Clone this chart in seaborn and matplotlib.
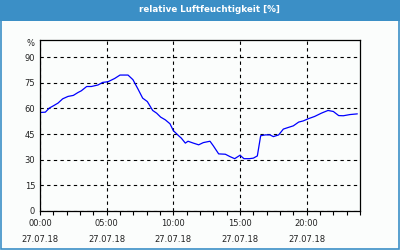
import matplotlib
matplotlib.use("Agg")
import matplotlib.pyplot as plt
import seaborn as sns
import pandas as pd
from matplotlib.patches import Rectangle
from matplotlib.ticker import MultipleLocator

sns.set_style("white")
plt.rcParams['font.family'] = ['DejaVu Sans']

hours = [0.0, 0.4, 0.7, 1.0, 1.35, 1.7, 2.1, 2.5, 2.85, 3.1, 3.5, 3.85, 4.35, 4.7,
         5.1, 5.6, 6.0, 6.6, 6.97, 7.35, 7.7, 8.05, 8.45, 8.75, 9.05, 9.4, 9.75,
         10.0, 10.4, 10.6, 10.9, 11.1, 11.5, 11.9, 12.25, 12.75, 13.0, 13.4, 13.9,
         14.25, 14.6, 15.0, 15.3, 15.7, 16.0, 16.3, 16.55, 16.9, 17.25, 17.5, 17.9,
         18.25, 18.6, 19.0, 19.4, 19.75, 20.1, 20.6, 21.1, 21.6, 22.0, 22.4, 22.75,
         23.25, 23.8]
humidity = [57.6, 57.8, 60.2, 61.5, 63.1, 65.6, 67.0, 67.6, 69.3, 70.3, 72.8, 72.8,
            73.7, 75.2, 75.6, 77.5, 79.5, 79.5, 76.8, 71.3, 66.0, 64.0, 58.8, 57.2,
            54.9, 53.3, 51.0, 47.0, 44.0, 42.6, 39.7, 40.8, 39.7, 38.7, 40.0, 40.8,
            38.1, 33.4, 33.2, 31.8, 30.6, 32.6, 30.6, 30.6, 30.9, 32.2, 44.0, 44.5,
            44.5, 43.5, 44.5, 47.9, 48.8, 49.8, 52.0, 52.7, 53.9, 55.3, 57.2, 58.8,
            58.2, 55.8, 55.7, 56.4, 56.8]
x_ticks = [0, 5, 10, 15, 20]
x_labels = ["00:00\n27.07.18", "05:00\n27.07.18", "10:00\n27.07.18",
            "15:00\n27.07.18", "20:00\n27.07.18"]
y_ticks = [0, 15, 30, 45, 60, 75, 90]
title = "relative Luftfeuchtigkeit [%]"
unit = "%"

bg = '#fbfdfc'
blue = '#3b8fc6'
txt = '#222222'

fig = plt.figure(figsize=(4, 2.5), dpi=100, facecolor=bg)
ax = fig.add_axes([0.1, 0.156, 0.8, 0.684])
ax.set_facecolor(bg)

df = pd.DataFrame({"h": hours, "v": humidity})
sns.lineplot(data=df, x="h", y="v", ax=ax, color='#0000ff', linewidth=0.9)

ax.set_xlim(0, 24)
ax.set_ylim(0, 100)
ax.set_xticks(x_ticks)
ax.set_xticklabels(x_labels, fontsize=6, color=txt, linespacing=1.9)
ax.xaxis.set_minor_locator(MultipleLocator(1))
ax.set_yticks(y_ticks)
ax.set_yticklabels([str(v) for v in y_ticks], fontsize=6, color=txt)
ax.tick_params(axis='x', which='both', direction='out', length=3, width=0.8,
               color='black', pad=3, bottom=True)
ax.tick_params(axis='y', length=0, pad=3.5)
ax.set_xlabel("")
ax.set_ylabel("")
for s in ax.spines.values():
    s.set_visible(True)
    s.set_color('black')
    s.set_linewidth(0.9)

ax.grid(True, which='major', color='black', linestyle=(0, (3, 3)), linewidth=0.8)
ax.text(-0.016, 0.98, unit, transform=ax.transAxes, ha='right', va='center',
        fontsize=6, color=txt)

# title bar and border
fig.patches.append(Rectangle((0, 0.918), 1, 0.082, transform=fig.transFigure,
                             facecolor=blue, edgecolor='none', zorder=0))
fig.patches.append(Rectangle((0.0015, 0.003), 0.9955, 0.99, transform=fig.transFigure,
                             facecolor='none', edgecolor=blue, linewidth=1.2, zorder=1))
fig.text(0.523, 0.962, title, ha='center', va='center', fontsize=6.3,
         fontweight='bold', color='white')

fig.savefig("out.png", dpi=100, facecolor=bg)
